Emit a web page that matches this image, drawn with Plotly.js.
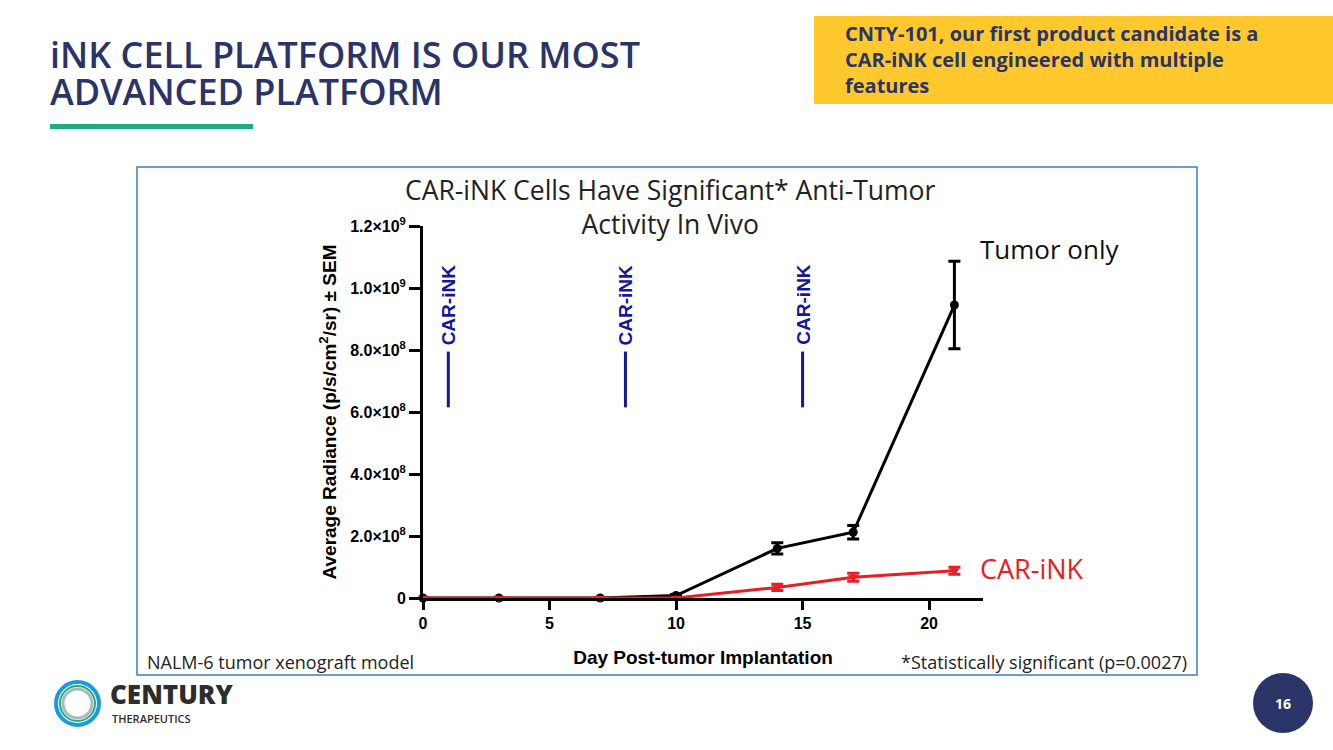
<!DOCTYPE html>
<html>
<head>
<meta charset="utf-8">
<script src="https://cdn.plot.ly/plotly-3.0.1.min.js"></script>
<style>
html,body{margin:0;padding:0;background:#fff;}
#chart{width:1333px;height:750px;}
</style>
</head>
<body>
<div id="chart"></div>
<script>
// ---- data ----
const days = [0, 3, 7, 10, 14, 17, 21];
const tumorOnly = [0, 0, 0, 0.008e9, 0.160e9, 0.212e9, 0.945e9];
const tumorOnlySem = [0, 0, 0, 0.003e9, 0.018e9, 0.022e9, 0.141e9];
const carInk = [0, 0, 0, 0, 0.034e9, 0.067e9, 0.088e9];
const carInkSem = [0, 0, 0, 0, 0.010e9, 0.013e9, 0.011e9];
const doseDays = [1, 8, 15];
const yTickVals = [0, 0.2e9, 0.4e9, 0.6e9, 0.8e9, 1.0e9, 1.2e9];
const yTickText = ['0', '2.0×10<sup>8</sup>', '4.0×10<sup>8</sup>', '6.0×10<sup>8</sup>', '8.0×10<sup>8</sup>', '1.0×10<sup>9</sup>', '1.2×10<sup>9</sup>'];
const xTickVals = [0, 5, 10, 15, 20];
const calloutLines = ['CNTY-101, our first product candidate is a', 'CAR-iNK cell engineered with multiple', 'features'];

// ---- layout helpers (pixel -> paper) ----
const W = 1333, H = 750, L = 423, R = 983, T = 226, B = 598;
const px = x => (x - L) / (R - L);
const py = y => (B - y) / (B - T);

const NAVY = '#2B3467';
const BLUE = '#1515A0';
const RED = '#EA1C24';
const SLIDE_FONT = 'Open Sans, sans-serif';
const ARIAL = 'Liberation Sans, Arial, sans-serif';

const traces = [
  {
    x: days, y: tumorOnly, type: 'scatter', mode: 'lines+markers', name: 'Tumor only',
    line: {color: '#000', width: 3},
    marker: {color: '#000', size: 9, symbol: 'circle'},
    error_y: {type: 'data', array: tumorOnlySem, visible: true, color: '#000', thickness: 3, width: 6},
    cliponaxis: false, showlegend: false
  },
  {
    x: days, y: carInk, type: 'scatter', mode: 'lines+markers', name: 'CAR-iNK',
    line: {color: RED, width: 3},
    marker: {color: RED, size: 9, symbol: 'triangle-down'},
    error_y: {type: 'data', array: carInkSem, visible: true, color: RED, thickness: 3, width: 6},
    cliponaxis: false, showlegend: false
  }
];

const shapes = [
  {type: 'rect', xref: 'paper', yref: 'paper', x0: px(814), x1: px(1333), y0: py(104), y1: py(16), fillcolor: '#FFC82C', line: {width: 0}, layer: 'below'},
  {type: 'rect', xref: 'paper', yref: 'paper', x0: px(50), x1: px(253), y0: py(129), y1: py(124), fillcolor: '#1DAE7E', line: {width: 0}, layer: 'below'},
  {type: 'rect', xref: 'paper', yref: 'paper', x0: px(137), x1: px(1197), y0: py(675), y1: py(167), fillcolor: 'rgba(0,0,0,0)', line: {color: '#3A7FC0', width: 1.5}, layer: 'below'},
  {type: 'circle', xref: 'paper', yref: 'paper', x0: px(1253), x1: px(1313), y0: py(733), y1: py(673), fillcolor: NAVY, line: {width: 0}, layer: 'below'},
  {type: 'circle', xref: 'paper', yref: 'paper', x0: px(56), x1: px(99), y0: py(725), y1: py(682), fillcolor: 'rgba(0,0,0,0)', line: {color: '#1C9BD8', width: 4}, layer: 'below'},
  {type: 'circle', xref: 'paper', yref: 'paper', x0: px(60), x1: px(95), y0: py(721), y1: py(686), fillcolor: 'rgba(0,0,0,0)', line: {color: '#1DB07E', width: 2}, layer: 'below'},
  {type: 'circle', xref: 'paper', yref: 'paper', x0: px(63), x1: px(92), y0: py(718), y1: py(689), fillcolor: 'rgba(0,0,0,0)', line: {color: '#A9B9BF', width: 3}, layer: 'below'}
];
doseDays.forEach(d => shapes.push({
  type: 'line', xref: 'x', yref: 'y', x0: d, x1: d, y0: 0.615e9, y1: 0.795e9,
  line: {color: BLUE, width: 3}
}));

const annotations = [
  {xref: 'paper', yref: 'paper', x: px(48), y: py(54), xanchor: 'left', yanchor: 'middle', showarrow: false,
   text: 'iNK CELL PLATFORM IS OUR MOST', font: {family: SLIDE_FONT, size: 36, color: NAVY, weight: 600}},
  {xref: 'paper', yref: 'paper', x: px(48), y: py(91), xanchor: 'left', yanchor: 'middle', showarrow: false,
   text: 'ADVANCED PLATFORM', font: {family: SLIDE_FONT, size: 36, color: NAVY, weight: 600}},
  {xref: 'paper', yref: 'paper', x: px(843), y: py(60), xanchor: 'left', yanchor: 'middle', align: 'left', showarrow: false,
   text: calloutLines.join('<br>'), font: {family: SLIDE_FONT, size: 20, color: NAVY, weight: 700}},
  {xref: 'paper', yref: 'paper', x: px(670), y: py(207), xanchor: 'center', yanchor: 'middle', align: 'center', showarrow: false,
   text: 'CAR-iNK Cells Have Significant* Anti-Tumor<br>Activity In Vivo', font: {family: SLIDE_FONT, size: 26.5, color: '#222'}},
  {xref: 'paper', yref: 'paper', x: px(978), y: py(249), xanchor: 'left', yanchor: 'middle', showarrow: false,
   text: 'Tumor only', font: {family: SLIDE_FONT, size: 26, color: '#111'}},
  {xref: 'paper', yref: 'paper', x: px(978), y: py(568), xanchor: 'left', yanchor: 'middle', showarrow: false,
   text: 'CAR-iNK', font: {family: SLIDE_FONT, size: 27, color: RED}},
  {xref: 'paper', yref: 'paper', x: px(145), y: py(662), xanchor: 'left', yanchor: 'middle', showarrow: false,
   text: 'NALM-6 tumor xenograft model', font: {family: SLIDE_FONT, size: 18, color: '#222'}},
  {xref: 'paper', yref: 'paper', x: px(1189), y: py(662), xanchor: 'right', yanchor: 'middle', showarrow: false,
   text: '*Statistically significant (p=0.0027)', font: {family: SLIDE_FONT, size: 18, color: '#222'}},
  {xref: 'paper', yref: 'paper', x: px(1283), y: py(703), xanchor: 'center', yanchor: 'middle', showarrow: false,
   text: '16', font: {family: SLIDE_FONT, size: 14, color: '#fff', weight: 700}},
  {xref: 'paper', yref: 'paper', x: px(108), y: py(694), xanchor: 'left', yanchor: 'middle', showarrow: false,
   text: 'CENTURY', font: {family: SLIDE_FONT, size: 26, color: '#2D2D2D', weight: 800}},
  {xref: 'paper', yref: 'paper', x: px(110), y: py(718), xanchor: 'left', yanchor: 'middle', showarrow: false,
   text: 'THERAPEUTICS', font: {family: SLIDE_FONT, size: 11, color: '#2D2D2D', weight: 600}}
];
doseDays.forEach(d => annotations.push({
  xref: 'x', yref: 'y', x: d, y: 0.945e9, xanchor: 'center', yanchor: 'middle', showarrow: false,
  textangle: -90, text: 'CAR-iNK', font: {family: ARIAL, size: 19, color: BLUE, weight: 700}
}));

const layout = {
  width: W, height: H,
  margin: {l: L, r: W - R, t: T, b: H - B, pad: 0},
  paper_bgcolor: '#fff', plot_bgcolor: 'rgba(0,0,0,0)',
  showlegend: false,
  xaxis: {
    range: [0, 22.13], tickvals: xTickVals, ticktext: xTickVals.map(String),
    showline: true, linecolor: '#000', linewidth: 3, ticks: 'outside', ticklen: 9, tickwidth: 3, tickcolor: '#000',
    showgrid: false, zeroline: false, fixedrange: true,
    tickfont: {family: ARIAL, size: 16, color: '#000', weight: 700},
    title: {text: 'Day Post-tumor Implantation', standoff: 20, font: {family: ARIAL, size: 19, color: '#000', weight: 700}}
  },
  yaxis: {
    range: [0, 1.2e9], tickvals: yTickVals, ticktext: yTickText,
    showline: true, linecolor: '#000', linewidth: 3, ticks: 'outside', ticklen: 11, tickwidth: 3, tickcolor: '#000',
    showgrid: false, zeroline: false, fixedrange: true,
    tickfont: {family: ARIAL, size: 16, color: '#000', weight: 700},
    title: {text: 'Average Radiance (p/s/cm<sup>2</sup>/sr) ± SEM', standoff: 9, font: {family: ARIAL, size: 19, color: '#000', weight: 700}}
  },
  shapes: shapes,
  annotations: annotations
};

Plotly.newPlot('chart', traces, layout, {displayModeBar: false, staticPlot: true});
</script>
</body>
</html>
